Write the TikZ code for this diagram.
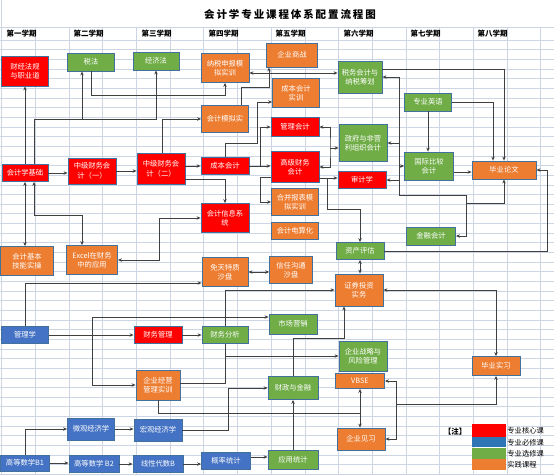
\documentclass[tikz,border=0pt]{standalone}
\usepackage{fontspec}
\setmainfont{Noto Sans CJK SC}
\usetikzlibrary{arrows.meta, calc}
\definecolor{corered}{HTML}{FF0000}
\definecolor{reqblue}{HTML}{4472C4}
\definecolor{elecgreen}{HTML}{70AD47}
\definecolor{pracorange}{HTML}{ED7D31}
\definecolor{boxline}{HTML}{41719C}
\definecolor{gridc}{HTML}{CDD5E5}
\definecolor{linec}{HTML}{404040}
\definecolor{legblue}{HTML}{2E75B6}

\begin{document}
\begin{tikzpicture}[x=1pt, y=-1pt, >={Stealth[length=4pt,width=3.4pt]},
    gridln/.style={draw=gridc, line width=0.5pt},
    box/.style={draw=boxline, line width=0.8pt, text=white, align=center, inner sep=1pt,
                font=\fontsize{7.3}{9.5}\selectfont},
    core/.style={box, fill=corered},
    req/.style={box, fill=reqblue},
    elec/.style={box, fill=elecgreen},
    prac/.style={box, fill=pracorange},
    sz/.style 2 args={minimum width=#1pt, minimum height=#2pt},
    head/.style={anchor=west, font=\bfseries\fontsize{7.5}{9}\selectfont},
    conn/.style={->, draw=linec, line width=0.8pt},
    dconn/.style={<->, draw=linec, line width=0.8pt},
    wire/.style={draw=linec, line width=0.8pt}]
  \fill[white] (0,0) rectangle (554,475);
  \useasboundingbox (0,0) rectangle (554,475);

  % sheet grid
  \draw[gridln] (1.5,0) -- (1.5,475);
  \foreach \i in {1,...,16}
    \draw[gridln] (1.5+33.7*\i,27) -- (1.5+33.7*\i,475);
  \draw[gridln] (0,27) -- (554,27);
  \foreach \j in {0,...,45}
    \draw[gridln] (0,40+9.65*\j) -- (554,40+9.65*\j);

  \node[font={\bfseries\fontsize{10.5}{12}\selectfont\addfontfeature{LetterSpace=18}}] (title) at (290,14) {会计学专业课程体系配置流程图};
  \foreach \x/\t [count=\n] in {3/第一学期, 70/第二学期, 138/第三学期, 205/第四学期,
                                272/第五学期, 340/第六学期, 407/第七学期, 474/第八学期}
    \node[head] (sem\n) at (\x,34) {\t};

  % first term
  \node[core, sz={47}{30}] (cjfg) at (25,71) {财经法规\\与职业道};
  \node[core, sz={46}{17}] (kjjc) at (25,173) {会计学基础};
  \node[prac, sz={53}{29}] (jbjn) at (27,261) {会计基本\\技能实操};
  \node[req, sz={47}{17}] (glx) at (25,335) {管理学};
  \node[req, sz={49}{16}] (gs1) at (25,463) {高等数学B1};
  % second term
  \node[elec, sz={47}{18}] (shuifa) at (91,62) {税法};
  \node[core, sz={48}{26}] (zj1) at (92,171) {中级财务会\\计（一）};
  \node[prac, sz={51}{29}] (excel) at (92,260) {Excel在财务\\中的应用};
  \node[req, sz={47}{22}] (wg) at (91,429) {微观经济学};
  \node[req, sz={50}{17}] (gs2) at (94,464) {高等数学 B2};
  % third term
  \node[elec, sz={46}{18}] (jjf) at (156,61) {经济法};
  \node[core, sz={48}{31}] (zj2) at (161,169) {中级财务会\\计（二）};
  \node[core, sz={48}{17}] (cwgl) at (158,335) {财务管理};
  \node[prac, sz={44}{30}] (qyjy) at (158,385) {企业经营\\管理实训};
  \node[req, sz={48}{22}] (hg) at (158,430) {宏观经济学};
  \node[req, sz={50}{17}] (xd) at (158,464) {线性代数B};
  % fourth term
  \node[prac, sz={48}{29}] (nssb) at (225,68) {纳税申报模\\拟实训};
  \node[prac, sz={47}{27}] (kjmn) at (225,119) {会计模拟实};
  \node[core, sz={48}{17}] (cbkj) at (225,166) {成本会计};
  \node[core, sz={48}{29}] (kjxx) at (225,218) {会计信息系\\统};
  \node[prac, sz={46}{29}] (mtsp) at (225,272) {免天特质\\沙盘};
  \node[elec, sz={46}{17}] (cwfx) at (225,335) {财务分析};
  \node[req, sz={49}{17}] (gltj) at (226,461) {概率统计};
  % fifth term
  \node[prac, sz={51}{24}] (qysz) at (292,55) {企业商战};
  \node[prac, sz={47}{29}] (cbsx) at (296,93) {成本会计\\实训};
  \node[core, sz={48}{19}] (glkj) at (295,127) {管理会计};
  \node[core, sz={48}{31}] (gjcw) at (295,167) {高级财务\\会计};
  \node[prac, sz={47}{27}] (hbbb) at (295,202) {合并报表模\\拟实训};
  \node[prac, sz={47}{17}] (dsh) at (295,231) {会计电算化};
  \node[prac, sz={43}{27}] (xrgt) at (291,270) {信任沟通\\沙盘};
  \node[elec, sz={48}{20}] (scyx) at (293,324) {市场营销};
  \node[elec, sz={50}{23}] (czjr) at (293,388) {财政与金融};
  \node[elec, sz={50}{19}] (yytj) at (293,460) {应用统计};
  % sixth term
  \node[elec, sz={44}{32}] (swkj) at (360,77) {税务会计与\\纳税筹划};
  \node[elec, sz={48}{37}] (zfkj) at (363,143) {政府与非营\\利组织会计};
  \node[core, sz={48}{17}] (sjx) at (362,180) {审计学};
  \node[elec, sz={48}{17}] (zcpg) at (360,251) {资产评估};
  \node[prac, sz={48}{32}] (zqtz) at (359,290) {证券投资\\实务};
  \node[elec, sz={48}{30}] (qyzl) at (363,356) {企业战略与\\风险管理};
  \node[prac, sz={49}{15}] (vbse) at (360,381) {VBSE};
  \node[prac, sz={48}{22}] (qyjx) at (361,439) {企业见习};
  % seventh and eighth term
  \node[elec, sz={47}{18}] (zyyy) at (428,102) {专业英语};
  \node[elec, sz={49}{28}] (gjbj) at (429,166) {国际比较\\会计};
  \node[elec, sz={49}{18}] (jrkj) at (431,236) {金融会计};
  \node[prac, sz={64}{18}] (bylw) at (504,170) {毕业论文};
  \node[prac, sz={48}{19}] (bysx) at (496,366) {毕业实习};

  % bends
  \coordinate (jA) at (82,119);
  \coordinate (jB) at (225,95);
  \coordinate (jC) at (159,260);
  \coordinate (jD) at (82,215);
  \coordinate (jE) at (257,143);
  \coordinate (jF) at (260,166);
  \coordinate (jG) at (269,87);
  \coordinate (jH) at (330,148);
  \coordinate (jI) at (327,178);
  \coordinate (jJ) at (360,209);
  \coordinate (bB) at (399,195);
  \coordinate (jK) at (466,195);
  \coordinate (jL) at (466,203);
  \coordinate (jM) at (547,251);
  \coordinate (jN) at (92,317);
  \coordinate (jO) at (225,356);
  \coordinate (jP) at (228,430);
  \coordinate (jQ) at (344,338);
  \coordinate (jR) at (360,413);
  \coordinate (jS) at (396,439);
  \coordinate (jT) at (396,404);

  % accounting line
  \draw[conn] (kjjc) -- (cjfg);
  \draw[conn] (kjjc.north -| 34,0) |- (jjf.south |- jA) -- (jjf.south);
  \draw[conn] (jA) -- (shuifa.south -| jA);
  \draw[conn] (shuifa.south) |- (jB) -- (nssb.south);
  \draw[dconn] (kjjc.south) -- (jbjn.north -| kjjc.south);
  \draw[dconn] (kjjc.south -| 34,0) |- (jD) -- (excel.north -| jD);
  \draw[conn] (kjjc.east) -- (kjjc.east -| zj1.west);
  \draw[conn] (zj1.east) -- (zj1.east -| zj2.west);
  \draw[conn] (zj2.north -| 162,0) |- (kjmn.west);
  \draw[conn] (zj2.east |- cbkj) -- (cbkj.west);
  \draw[conn] ([yshift=-10pt]zj2.east) -| (kjxx.north);
  \draw[dconn] (kjxx.west) -| (jC) -- (excel.east);
  \draw[conn] (kjmn.north -| 241,0) |- (jG) -- (qysz.south -| jG);
  \draw[dconn] ([yshift=-5pt]nssb.east) -- ([yshift=-5pt]nssb.east -| swkj.west);
  \draw[conn] (cbkj.north) |- (jE) |- ([yshift=-9pt]cbsx.west);
  \draw[conn] (cbkj.east) -- (jF) |- (glkj.west);
  \draw[conn] (jF) -- (jF -| gjcw.west);
  \draw[conn] ([yshift=-10pt]gjcw.west) -- ++(-10,0) |- (hbbb.west);
  \draw[dconn] (glkj.east) -| (jH) |- (gjcw.east);
  \draw[conn] (jH) -- (jH -| zfkj.west);
  \draw[conn] ([yshift=-11pt]gjcw.east) -- ([yshift=-11pt]gjcw.east -| sjx.west);
  \draw[conn] (jI) |- (jJ) -- (zcpg.north);
  \draw[dconn] (swkj.east) -| (bB) -- (jK) |- (jrkj.east);
  \draw[conn] (zfkj.east -| bB) -- (zfkj.east);
  \draw[conn] (sjx.east -| bB) -- (sjx.east);
  \draw[conn] (gjbj.west -| bB) -- (gjbj.west);
  \draw[conn] (jL) -| (bylw.south);
  \draw[conn] ([yshift=8pt]swkj.east) -| (bylw.north);
  \draw[conn] (zyyy.east) -| ([xshift=-11pt]bylw.north);
  \draw[conn] (zyyy.south) -- (zyyy.south |- gjbj.north);
  \draw[conn] ([yshift=-6pt]gjbj.east) -- ([yshift=-6pt]gjbj.east -| bylw.west);
  \draw[conn] (zcpg.east) -- (jM) |- (bylw.east);
  \draw[dconn] (zcpg.south) -- (zcpg.south |- zqtz.north);
  \draw[dconn] (zqtz.east) -| (bysx.north);

  % management line
  \draw[conn] (glx.north) |- ([yshift=-11pt]mtsp.west);
  \draw[conn] (glx.east) -- (glx.east -| cwgl.west);
  \draw[conn] (cwgl.east) -- (cwgl.east -| cwfx.west);
  \draw[dconn] (mtsp.east) -- (mtsp.east -| xrgt.west);
  \draw[conn] (cwfx.north) |- (zqtz.west);
  \draw[dconn] (qyjy.west) -| (jN) -- (jN -| scyx.west);
  \draw[conn] (cwfx.south) |- (qyzl.west);
  \draw[wire] ([yshift=2pt]qyjy.east) -| (jO);
  \draw[conn] (hg.east) -- (jP) |- (czjr.west);
  \draw[conn] (yytj.north) -- (czjr.south);
  \draw[conn] (czjr.north) |- (jQ) -- (jQ |- zqtz.south);
  \draw[wire] (qyjy.south) |- (jR);
  \draw[conn] (jR) -- (vbse.south);
  \draw[conn] (jR) -- (jR |- qyjx.north);
  \draw[dconn] (vbse.east) -| (jS) -- (qyjx.east);
  \draw[conn] (jT) -| (bysx.south);

  % maths and economics
  \draw[conn] (gs1.east) -- (gs1.east -| gs2.west);
  \draw[conn] (gs2.east) -- (gs2.east -| xd.west);
  \draw[conn] (xd.east) -- (xd.east -| gltj.west);
  \draw[conn] ([yshift=4pt]gltj.east) -- ([yshift=4pt]gltj.east -| yytj.west);
  \draw[conn] (gs1.north) |- (wg.west);
  \draw[conn] (wg.east) -- (wg.east -| hg.west);

  % legend
  \node[font=\bfseries\fontsize{7.5}{8}\selectfont] (note) at (455,432) {【注】};
  \node[fill=corered, sz={34}{13}, inner sep=0pt] (lg1) at (489,430.5) {};
  \node[fill=legblue, sz={34}{10}, inner sep=0pt, anchor=north] (lg2) at (lg1.south) {};
  \node[fill=elecgreen, sz={34}{11}, inner sep=0pt, anchor=north] (lg3) at (lg2.south) {};
  \node[fill=pracorange, sz={34}{11}, inner sep=0pt, anchor=north] (lg4) at (lg3.south) {};
  \foreach \k/\t in {1/专业核心课, 2/专业必修课, 3/专业选修课, 4/实践课程}
    \node[anchor=west, inner sep=1pt, font=\fontsize{7.3}{8}\selectfont] (lt\k) at (lg\k.east) {\t};
\end{tikzpicture}
\end{document}
